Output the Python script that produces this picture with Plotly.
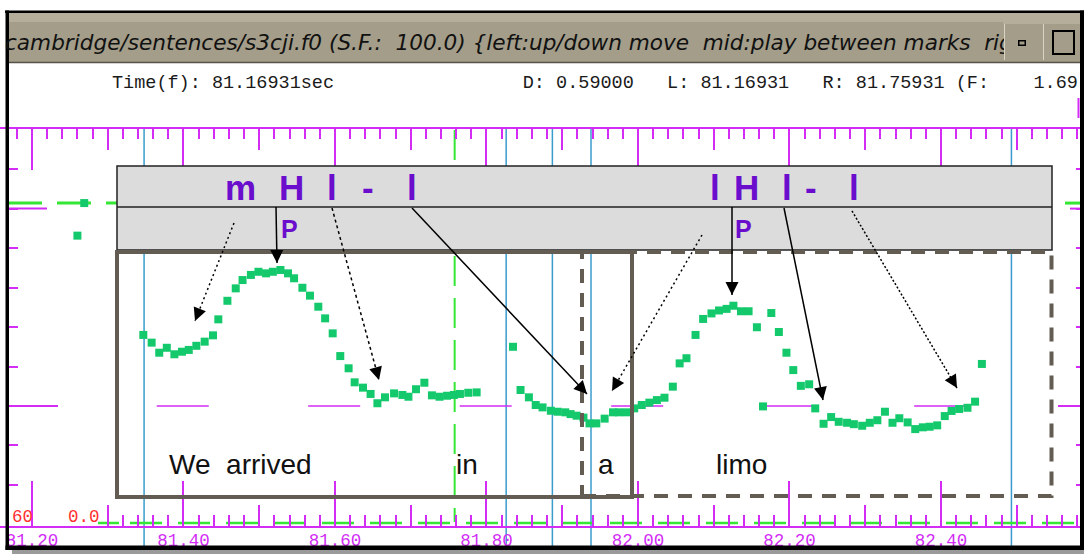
import plotly.graph_objects as go

W, H = 1084, 554

# ---------------- data ----------------
time_s = [81.260, 81.269, 81.347, 81.358, 81.368, 81.378, 81.388, 81.398, 81.407, 81.417,
          81.428, 81.439, 81.446, 81.458, 81.469, 81.478, 81.489, 81.499, 81.509, 81.518,
          81.528, 81.538, 81.546, 81.557, 81.567, 81.578, 81.587, 81.597, 81.607, 81.618,
          81.626, 81.637, 81.647, 81.656, 81.666, 81.678, 81.689, 81.697, 81.707, 81.718,
          81.728, 81.738, 81.748, 81.757, 81.765, 81.776, 81.787,
          81.835, 81.845, 81.856, 81.865, 81.874, 81.885, 81.894, 81.904, 81.911, 81.919,
          81.928, 81.936, 81.945, 81.956, 81.967, 81.975, 81.985, 81.995, 82.005, 82.015,
          82.025, 82.035, 82.046, 82.055, 82.064, 82.076, 82.086, 82.097, 82.107, 82.117,
          82.126, 82.136, 82.146, 82.157, 82.165, 82.176, 82.186, 82.196, 82.205, 82.215,
          82.226, 82.234, 82.245, 82.255, 82.265, 82.276, 82.285, 82.296, 82.306, 82.316,
          82.326, 82.336, 82.345, 82.356, 82.366, 82.376, 82.385, 82.395, 82.405, 82.414,
          82.424, 82.435, 82.445, 82.454]
f0_hz = [236.3, 252.8, 186.0, 182.1, 177.0, 179.5, 176.2, 177.5, 178.4, 180.5,
         182.6, 185.8, 193.9, 203.3, 209.6, 213.8, 216.4, 218.0, 217.2, 218.0,
         218.9, 217.2, 214.7, 209.9, 205.9, 200.3, 194.4, 186.8, 175.3, 169.1,
         162.0, 159.3, 156.1, 151.4, 154.4, 156.4, 155.6, 154.7, 158.5, 161.8,
         155.4, 154.7, 155.2, 155.6, 156.1, 156.7, 156.9,
         180.0, 158.1, 154.4, 150.5, 149.3, 147.6, 147.1, 146.8, 145.9, 145.1,
         144.1, 141.2, 141.2, 143.6, 146.8, 146.8, 146.8, 148.8, 150.5, 151.7,
         153.0, 154.2, 159.8, 171.6, 174.2, 186.0, 194.1, 196.9, 198.4, 199.2,
         200.8, 198.0, 198.0, 189.9, 149.8, 197.1, 187.5, 177.0, 168.2, 160.2,
         161.0, 148.8, 141.0, 144.4, 142.0, 141.5, 140.8, 140.0, 141.5, 142.8,
         147.1, 141.5, 143.8, 141.7, 138.3, 139.2, 139.5, 140.2, 144.9, 147.5,
         148.5, 149.1, 152.2, 171.3]

axis_ticks = [81.20, 81.40, 81.60, 81.80, 82.00, 82.20, 82.40]
axis_labels = ["81.20", "81.40", "81.60", "81.80", "82.00", "82.20", "82.40"]
top_minor = [round(81.18 + 0.02 * i, 2) for i in range(71)]
bottom_minor = [round(81.30 + 0.02 * i, 2) for i in range(65)]
tenth_ticks = [81.3, 81.5, 81.7, 81.9, 82.1, 82.3, 82.5]
f0_ticks = [110, 130, 150, 170, 190, 210, 230, 250, 270]

segment_marks = [81.348, 81.826, 81.887, 81.938, 82.493]   # cyan boundaries
cursor_mark = 81.758                                         # green dashed
ref_level = 150.0                                            # magenta dashed level
green_level = 252.8

tones_left = ["m", "H", "l", "-", "l"]
tones_right = ["l", "H", "l", "-", "l"]
prom = ["P", "P"]
words = ["We\u00a0\u00a0arrived", "in", "a", "limo"]

title_text = ("cambridge/sentences/s3cji.f0 (S.F.:\u00a0\u00a0100.0) {left:up/down move"
              "\u00a0\u00a0mid:play between marks\u00a0\u00a0rig")
status_text = ("Time(f): 81.16931sec" + "\u00a0" * 17 + "D: 0.59000" + "\u00a0" * 3 +
               "L: 81.16931" + "\u00a0" * 3 + "R: 81.75931 (F:" + "\u00a0" * 4 + "1.69")

X_RANGE = [81.1578, 82.5888]
Y_RANGE = [75.03, 355.67]

# ---------------- styling ----------------
MAG = "#d22cf5"
CYAN = "#3a9ccc"
LIME = "#35e635"
PTS = "#14c96c"
BOXC = "#625c52"
PURP = "#6a0dcc"
BAR = "#a39d89"


def P(x):
    return x / W


def Q(y):
    return 1 - y / H


shapes = []


def rect(x0, y0, x1, y1, fill=None, line=None, lw=0, dash=None, layer="above"):
    d = dict(type="rect", xref="paper", yref="paper", x0=P(x0), x1=P(x1),
             y0=Q(y1), y1=Q(y0), layer=layer, line=dict(width=lw))
    if fill:
        d["fillcolor"] = fill
    if line:
        d["line"]["color"] = line
    if dash:
        d["line"]["dash"] = dash
    shapes.append(d)


def seg(x0, y0, x1, y1, color, width, dash=None, layer="above"):
    d = dict(type="line", xref="paper", yref="paper", x0=P(x0), x1=P(x1),
             y0=Q(y0), y1=Q(y1), layer=layer, line=dict(color=color, width=width))
    if dash:
        d["line"]["dash"] = dash
    shapes.append(d)


# background guide lines (under the points)
for t in segment_marks:
    shapes.append(dict(type="line", xref="x", yref="paper", x0=t, x1=t, y0=Q(128), y1=Q(546),
                       layer="below", line=dict(color=CYAN, width=1.5)))
shapes.append(dict(type="line", xref="x", yref="paper", x0=cursor_mark, x1=cursor_mark,
                   y0=Q(130), y1=Q(522), layer="below",
                   line=dict(color=LIME, width=2, dash="30px,12px")))
shapes.append(dict(type="line", xref="paper", yref="y", x0=P(156.7), x1=P(968), y0=ref_level,
                   y1=ref_level, layer="below", line=dict(color=MAG, width=1.5, dash="52px,99.5px")))
shapes.append(dict(type="line", xref="paper", yref="y", x0=P(8), x1=P(1052), y0=green_level,
                   y1=green_level, layer="below", line=dict(color=LIME, width=3, dash="34px,15px")))
shapes.append(dict(type="line", xref="paper", yref="y", x0=P(1065), x1=P(1080), y0=green_level,
                   y1=green_level, layer="below", line=dict(color=LIME, width=3)))
# long y ticks
for (xa, xb, lev) in [(8, 47, 250), (8, 58, 150), (1070, 1080, 250), (1058, 1080, 150)]:
    shapes.append(dict(type="line", xref="paper", yref="y", x0=P(xa), x1=P(xb), y0=lev, y1=lev,
                       layer="below", line=dict(color=MAG, width=2)))
# bottom green dashes
seg(98, 523, 119, 523, LIME, 2.5, layer="below")
seg(130, 523, 1078, 523, LIME, 2.5, dash="32px,16px", layer="below")

# title bar
rect(8, 13, 1084, 62, fill=BAR)
rect(8, 13, 1084, 22, fill="#b4ae9b")
seg(8, 62.5, 1084, 62.5, "#56524a", 1.5)

# tone tier box
rect(117, 166, 1052, 250, fill="#dcdcdc", line="#222222", lw=1.5)
seg(117, 207, 1052, 207, "#222222", 1.5)

# word boxes
rect(582, 252, 1051.5, 496, line=BOXC, lw=4, dash="14px,10px")
rect(117, 252, 632, 497, line=BOXC, lw=4)

# arrows: (tail, head, dash)
arrows = [((234, 223), (195, 321), "2px,3px"),
          ((276, 207), (277, 263), None),
          ((332, 208), (379, 380), "3px,3px"),
          ((412, 208), (587, 394), None),
          ((702, 235), (612, 391), "2px,3px"),
          ((732, 207), (732, 295), None),
          ((784, 208), (823, 400), None),
          ((852, 211), (957, 388), "2px,2px")]
annotations = []
for (tx, ty), (hx, hy), dsh in arrows:
    seg(tx, ty, hx, hy, "black", 1.5, dash=dsh)
    dx, dy = tx - hx, ty - hy
    L = (dx * dx + dy * dy) ** 0.5
    annotations.append(dict(x=P(hx), y=Q(hy), xref="paper", yref="paper", text="",
                            showarrow=True, ax=dx / L * 12, ay=dy / L * 12,
                            arrowhead=2, arrowsize=1.3, arrowwidth=2, arrowcolor="black"))

# window frame
rect(5, 10.5, 1084, 13, fill="black")
rect(5.5, 10.5, 9, 550, fill="black")
rect(1080, 10.5, 1084, 550, fill="black")
rect(5.5, 545.5, 1084, 550, fill="black")
rect(12, 550, 1084, 554, fill="#9a9a9a")
seg(1078.5, 98, 1078.5, 118, MAG, 2)


def txt(x, y, s, size, color, family, xanchor="center", weight="normal", style="normal"):
    annotations.append(dict(x=P(x), y=Q(y), xref="paper", yref="paper", text=s, showarrow=False,
                            xanchor=xanchor, yanchor="middle",
                            font=dict(family=family, size=size, color=color,
                                      weight=weight, style=style)))


txt(3, 43, title_text, 21.6, "#111111", "DejaVu Sans", xanchor="left", style="italic")
txt(110, 84, status_text, 18.5, "#1a1a1a", "Liberation Mono", xanchor="left")

for s, x in zip(tones_left, [240, 291.5, 332, 367.5, 412]):
    txt(x, 188, s, 35, PURP, "Liberation Sans", weight="bold")
for s, x in zip(tones_right, [715, 746, 787.3, 811, 854.3]):
    txt(x, 188, s, 35, PURP, "Liberation Sans", weight="bold")
for s, x in zip(prom, [289.5, 743]):
    txt(x, 229, s, 25, PURP, "Liberation Sans", weight="bold")
for s, x in zip(words, [240.5, 467, 606, 741.5]):
    txt(x, 464, s, 28, "#111111", "Liberation Sans")
txt(10, 517, "60", 17.5, "#ff3030", "Liberation Mono", xanchor="left")
txt(66, 517, "0.0", 17.5, "#ff3030", "Liberation Mono", xanchor="left")


def box(xc, yc, w, h, bw, border, bg):
    annotations.append(dict(x=P(xc), y=Q(yc), xref="paper", yref="paper", text=" ",
                            showarrow=False, xanchor="center", yanchor="middle",
                            width=w, height=h, bordercolor=border, borderwidth=bw,
                            borderpad=0, bgcolor=bg, font=dict(size=2)))


# title bar buttons (cover the clipped title text first)
box(1042, 42.5, 76, 37, 0, BAR, BAR)
box(1041.5, 23, 77, 2, 0, "#b4ae9b", "#b4ae9b")
box(1022, 43, 5, 3, 1.5, "black", BAR)
box(1063.5, 42.5, 19, 21, 2, "black", BAR)
box(1004, 42, 1, 36, 0, "#d8d4c6", "#d8d4c6")
box(1043, 42, 1, 36, 0, "#d8d4c6", "#d8d4c6")

# ---------------- figure ----------------
fig = go.Figure()
fig.add_trace(go.Scatter(x=time_s, y=f0_hz, mode="markers", xaxis="x", yaxis="y",
                         marker=dict(symbol="square", size=8, color=PTS, line=dict(width=0)),
                         hoverinfo="skip"))
for xa in ["x2", "x3", "x4", "x5", "x6"]:
    fig.add_trace(go.Scatter(x=[], y=[], xaxis=xa, yaxis="y", mode="markers"))
fig.add_trace(go.Scatter(x=[], y=[], xaxis="x", yaxis="y2", mode="markers"))

common_x = dict(range=X_RANGE, domain=[0, 1], showgrid=False, zeroline=False,
                tickcolor=MAG, tickwidth=2, ticks="inside", tickmode="array", anchor="free")
tick_font = dict(family="Liberation Mono", size=17.5, color=MAG)

fig.update_layout(
    width=W, height=H, margin=dict(l=0, r=0, t=0, b=0),
    paper_bgcolor="white", plot_bgcolor="white", showlegend=False,
    xaxis=dict(common_x, position=Q(527), side="bottom", tickvals=axis_ticks,
               ticktext=axis_labels, ticklen=45, showline=True, linecolor=MAG, linewidth=2,
               tickfont=tick_font, ticklabelstandoff=-3),
    xaxis2=dict(common_x, overlaying="x", position=Q(527), side="bottom",
                tickvals=bottom_minor, ticklen=12, showticklabels=False),
    xaxis3=dict(common_x, overlaying="x", position=Q(527), side="bottom",
                tickvals=tenth_ticks, ticklen=22, showticklabels=False),
    xaxis4=dict(common_x, overlaying="x", position=Q(128), side="top", tickvals=axis_ticks,
                ticklen=41, showticklabels=False, showline=True, linecolor=MAG, linewidth=2),
    xaxis5=dict(common_x, overlaying="x", position=Q(128), side="top",
                tickvals=top_minor, ticklen=10, showticklabels=False),
    xaxis6=dict(common_x, overlaying="x", position=Q(128), side="top",
                tickvals=tenth_ticks, ticklen=21, showticklabels=False),
    yaxis=dict(range=Y_RANGE, domain=[0, 1], anchor="free", position=P(8), side="left",
               tickmode="array", tickvals=f0_ticks, ticks="inside", ticklen=9, tickwidth=2,
               tickcolor=MAG, showticklabels=False, showgrid=False, zeroline=False,
               showline=False),
    yaxis2=dict(range=Y_RANGE, domain=[0, 1], anchor="free", overlaying="y",
                position=P(1080), side="right", tickmode="array", tickvals=f0_ticks,
                ticks="inside", ticklen=4, tickwidth=2, tickcolor=MAG, showticklabels=False,
                showgrid=False, zeroline=False, showline=False),
    shapes=shapes, annotations=annotations,
)

fig.write_html("out.html", config={"displayModeBar": False},
               post_script="document.body.style.margin='0';document.body.style.padding='0';"
                           "document.body.style.overflow='hidden';")
